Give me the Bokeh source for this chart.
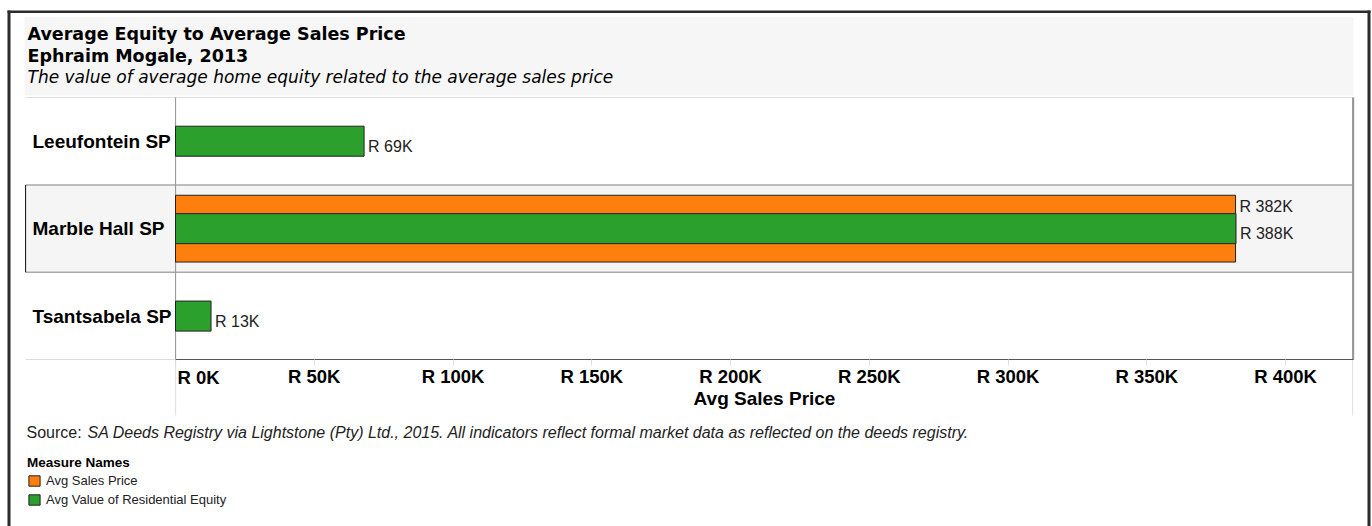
from bokeh.plotting import figure
from bokeh.models import (Range1d, FixedTicker, CustomJSTickFormatter, Label, BoxAnnotation,
                          Legend, LegendItem, ColumnDataSource, LinearAxis)
from bokeh.embed import file_html
from bokeh.resources import INLINE
from bokeh.core.properties import value

# ---------------- data ----------------
stations = ["Leeufontein SP", "Marble Hall SP", "Tsantsabela SP"]
avg_sales_price = [None, 382000, None]            # orange series
avg_residential_equity = [69000, 388000, 13000]   # green series
x_ticks = [0, 50000, 100000, 150000, 200000, 250000, 300000, 350000, 400000]
title_line1 = "Average Equity to Average Sales Price"
title_line2 = "Ephraim Mogale, 2013"
subtitle = "The value of average home equity related to the average sales price"
source_lead = "Source:"
source_text = ("SA Deeds Registry via Lightstone (Pty) Ltd., 2015. All indicators reflect "
               "formal market data as reflected on the deeds registry.")
legend_title = "Measure Names"
series_names = ["Avg Sales Price", "Avg Value of Residential Equity"]
x_axis_title = "Avg Sales Price"

# ---------------- layout / style ----------------
W, H = 1372, 526
FT, FB = 97, 359.3          # top / bottom of the row panes (page px)
ZERO_X, PANE_R = 175, 1353  # page x of value 0 and of the pane's right edge
HEAD_L = 25                 # left edge of the row-header column
SALES_AXIS_END = 424500
EQUITY_AXIS_END = 431000
ORANGE = "#ff7f0e"
GREEN = "#2ca02c"
ARIAL = "Liberation Sans"
TAHOMA = "DejaVu Sans"

n = len(stations)
rows = list(range(n))
ROW_H = (FB - FT) / n


def xr(end):
    k = end / (PANE_R - ZERO_X)
    return Range1d(-ZERO_X * k, (W - ZERO_X) * k)


p = figure(width=W, height=H, output_backend="svg", toolbar_location=None,
           x_range=xr(SALES_AXIS_END),
           y_range=Range1d((H - FT) / ROW_H - 0.5, -FT / ROW_H - 0.5),
           x_axis_location=None, y_axis_location=None, min_border=0,
           outline_line_color=None, background_fill_color="white",
           border_fill_color="white")
p.extra_x_ranges = {"equity": xr(EQUITY_AXIS_END)}
p.grid.visible = False


def rect(x1, x2, y1, y2, color, level="underlay"):
    p.add_layout(BoxAnnotation(left=x1, right=x2, top=H - y1, bottom=H - y2,
                               left_units="screen", right_units="screen",
                               top_units="screen", bottom_units="screen",
                               fill_color=color, fill_alpha=1, line_color=None,
                               level=level))


def lab(text, X, Y, size, font=ARIAL, style="normal", align="left", color="black"):
    p.add_layout(Label(x=X, y=H - Y, x_units="screen", y_units="screen", text=text,
                       text_font=font, text_font_size=size, text_font_style=style,
                       text_color=color, text_baseline="middle", text_align=align))


row_top = [FT + ROW_H * r for r in rows]
hl = stations.index("Marble Hall SP")

# ---- backgrounds / rules ----
rect(24, PANE_R, 16.5, 95, "#f6f6f6")                                  # title band
rect(HEAD_L, PANE_R, row_top[hl], row_top[hl] + ROW_H, "#f5f5f5")      # highlighted row
rect(HEAD_L, PANE_R, FT - 0.5, FT + 0.5, "#dcdcdc")                    # top rule
for yb in [row_top[hl], row_top[hl] + ROW_H]:
    rect(HEAD_L, PANE_R, yb - 0.75, yb + 0.75, "#a9a9a9")              # row borders
rect(HEAD_L - 0.5, HEAD_L + 0.6, row_top[hl], row_top[hl] + ROW_H, "#222222")
rect(HEAD_L, ZERO_X, FB - 0.8, FB + 0.2, "#dcdcdc")                    # bottom rule (header)
rect(ZERO_X - 0.5, ZERO_X + 0.6, FT, FB, "#9a9a9a")                    # zero line
rect(PANE_R - 1.5, PANE_R + 0.7, FT, FB, "#9a9a9a")                    # pane right edge
rect(ZERO_X - 0.5, ZERO_X + 0.6, FB, 415, "#e2e2e2")
rect(PANE_R - 1.5, PANE_R - 0.4, FB, 415, "#e2e2e2")
# outer frame
rect(7, 1370, 10, 12.5, "#2b2b2b", level="overlay")
rect(7, 10, 10, H, "#2b2b2b", level="overlay")
rect(1367, 1370, 10, H, "#2b2b2b", level="overlay")

# ---- x axis (drawn at the bottom of the panes) ----
ax = LinearAxis(fixed_location=n - 0.5, ticker=FixedTicker(ticks=x_ticks),
                formatter=CustomJSTickFormatter(
                    code="return tick == 0 ? '' : 'R ' + Math.round(tick/1000) + 'K';"),
                bounds=(0, SALES_AXIS_END))
ax.axis_line_color = "#555555"
ax.major_tick_line_color = "#dcdcdc"
ax.major_tick_out = 6
ax.major_tick_in = 0
ax.minor_tick_line_color = None
ax.major_label_text_font = ARIAL
ax.major_label_text_font_size = "18.5px"
ax.major_label_text_font_style = "bold"
ax.major_label_text_color = "black"
ax.major_label_standoff = 0
p.add_layout(ax, "below")

# ---- bars ----
s_rows = [r for r, v in zip(rows, avg_sales_price) if v is not None]
s_vals = [v for v in avg_sales_price if v is not None]
sales_src = ColumnDataSource(dict(y=s_rows, v=s_vals,
                                  lab=["R %dK" % round(v / 1000) for v in s_vals]))
eq_src = ColumnDataSource(dict(y=rows, v=avg_residential_equity,
                               lab=["R %dK" % round(v / 1000) for v in avg_residential_equity]))

r_sales = p.hbar(y="y", left=0, right="v", height=0.764, source=sales_src,
                 fill_color=ORANGE, line_color="#222222", line_width=1)
r_eq = p.hbar(y="y", left=0, right="v", height=0.3435, source=eq_src,
              x_range_name="equity", fill_color=GREEN, line_color="#222222", line_width=1)

p.text(x="v", y="y", text="lab", source=sales_src, x_offset=4, y_offset=-22,
       text_font=value(ARIAL), text_font_size="16px", text_color="#222222",
       text_baseline="middle", text_align="left")
p.text(x="v", y="y", text="lab", source=eq_src, x_range_name="equity", x_offset=4,
       y_offset=5, text_font=value(ARIAL), text_font_size="16px", text_color="#222222",
       text_baseline="middle", text_align="left")

# ---- row headers ----
for r, name in zip(rows, stations):
    p.add_layout(Label(x=32, y=r, x_units="screen", y_units="data", text=name,
                       text_font=ARIAL, text_font_size="19px", text_font_style="bold",
                       text_color="black", text_baseline="middle", text_align="left"))

# ---- texts ----
lab(title_line1, 27, 33, "17.5px", font=TAHOMA, style="bold")
lab(title_line2, 27, 55, "17.5px", font=TAHOMA, style="bold")
lab(subtitle, 27, 76, "17px", font=TAHOMA, style="italic")
lab(x_axis_title, (ZERO_X + PANE_R) / 2, 398, "19px", style="bold", align="center")
lab(source_lead, 26, 432, "16px", color="#222222")
lab(source_text, 87, 432, "16px", style="italic", color="#222222")
p.add_layout(Label(x=0, y=H - 377, x_units="data", y_units="screen", x_offset=2,
                   text="R %dK" % round(x_ticks[0] / 1000), text_font=ARIAL,
                   text_font_size="18.5px", text_font_style="bold", text_color="black",
                   text_baseline="middle", text_align="left"))

# ---- legend ----
legend = Legend(items=[LegendItem(label=series_names[0], renderers=[r_sales]),
                       LegendItem(label=series_names[1], renderers=[r_eq])],
                location=(27, H - 507), title=legend_title,
                title_text_font=ARIAL, title_text_font_size="13.5px",
                title_text_font_style="bold", title_text_color="black", title_standoff=3,
                label_text_font=ARIAL, label_text_font_size="13px",
                label_text_color="#222222", glyph_width=14, glyph_height=13,
                label_height=13, label_standoff=5, spacing=4, padding=0, margin=0,
                border_line_color=None, background_fill_alpha=0)
p.add_layout(legend)

open("out.html", "w").write(file_html(p, INLINE))
